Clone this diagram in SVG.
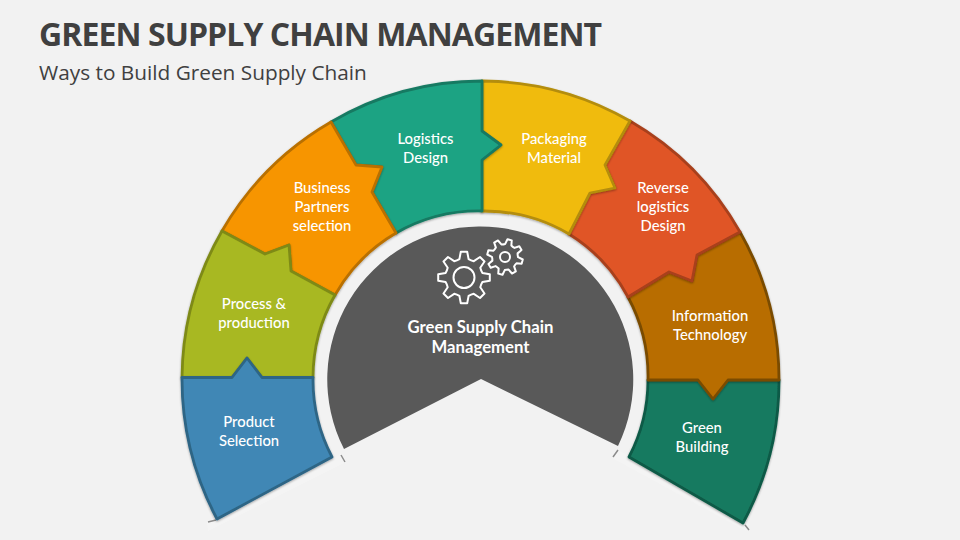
<svg xmlns="http://www.w3.org/2000/svg" xmlns:xlink="http://www.w3.org/1999/xlink" width="960" height="540" viewBox="0 0 960 540">
<style>
.bg{fill:#f2f2f2}
.title{font:bold 32px "Open Sans",sans-serif;fill:#404040;letter-spacing:-.92px}
.sub{font:20.8px "Open Sans",sans-serif;fill:#404040}
.lbl{font:500 14.8px Lato,"Liberation Sans",sans-serif;fill:#fff;text-anchor:middle}
.clbl{font:bold 16.700px Lato,"Liberation Sans",sans-serif;fill:#fff;text-anchor:middle}
.seg{stroke-width:2.800;stroke-linejoin:round;filter:url(#sh)}
.gear{fill:none;stroke:#fff;stroke-width:2;stroke-linejoin:round}
.strip{fill:#f4f4f4}
.tick{stroke:#8c8c8c;stroke-width:1.500;fill:none;filter:url(#bl)}
</style>
<defs>
<filter id="sh" x="-10%" y="-10%" width="120%" height="120%"><feDropShadow dx="0" dy="1" stdDeviation="1.200" flood-color="#000" flood-opacity=".35"/></filter>
<filter id="bl" x="-50%" y="-50%" width="200%" height="200%"><feGaussianBlur stdDeviation=".7"/></filter>
<path id="g" d="M-4.600 -18.400L-3.200 -25.800L3.200 -25.800L4.600 -18.400A19 19 0 0 0 9.800 -16.300L16 -20.500L20.500 -16L16.300 -9.800A19 19 0 0 0 18.400 -4.600L25.800 -3.200L25.800 3.200L18.400 4.600A19 19 0 0 0 16.300 9.800L20.500 16L16 20.500L9.800 16.300A19 19 0 0 0 4.600 18.400L3.200 25.800L-3.200 25.800L-4.600 18.400A19 19 0 0 0 -9.800 16.300L-16 20.500L-20.500 16L-16.300 9.800A19 19 0 0 0 -18.400 4.600L-25.800 3.200L-25.800 -3.200L-18.400 -4.600A19 19 0 0 0 -16.300 -9.800L-20.500 -16L-16 -20.500L-9.800 -16.300A19 19 0 0 0 -4.600 -18.400Z"/>
</defs>
<rect class="bg" width="960" height="540"/>
<text class="title" x="39" y="46">GREEN SUPPLY CHAIN MANAGEMENT</text>
<text class="sub" x="39" y="80">Ways to Build Green Supply Chain</text>
<g id="connectors"></g>
<polygon class="strip" points="341,454 346,462 208,531 207,522"/>
<polygon class="strip" points="618,450 612,458 746,531 750,524"/>
<path class="tick" d="M341 455L345 462M208 522L216 520M618 450L613 457M745 525L749 530"/>
<g id="green-building"><path class="seg" fill="#177a60" stroke="#0f5a46" d="M648 380L698 380L728 380L779 380A298.500 298.500 0 0 1 743 523L629 457A167 167 0 0 0 648 380Z"/><text class="lbl" x="702" y="433">Green</text><text class="lbl" x="702" y="452">Building</text></g>
<g id="information-technology"><path class="seg" fill="#b86d00" stroke="#7a4c00" d="M740 232A298.500 298.500 0 0 1 779 380L728 380L713 399L698 380L648 380A167 167 0 0 0 628 297L669 272L692 281L697 255Z"/><text class="lbl" x="710" y="321">Information</text><text class="lbl" x="710" y="340">Technology</text></g>
<g id="reverse-logistics"><path class="seg" fill="#e05526" stroke="#a8401c" d="M630 121A298.500 298.500 0 0 1 740 232L697 255L692 281L669 272L628 297A167 167 0 0 0 569 234L590 193L615 188L605 165Z"/><text class="lbl" x="663" y="193">Reverse</text><text class="lbl" x="663" y="212">logistics</text><text class="lbl" x="663" y="231">Design</text></g>
<g id="packaging-material"><path class="seg" fill="#f0bb0c" stroke="#b48d09" d="M482 81A298.500 298.500 0 0 1 630 121L605 165L615 188L590 193L569 234A167 167 0 0 0 482 211L482 160L501 145L482 131Z"/><text class="lbl" x="554" y="144">Packaging</text><text class="lbl" x="554" y="163">Material</text></g>
<g id="logistics-design"><path class="seg" fill="#1fa383" stroke="#177a62" d="M331 122A298.500 298.500 0 0 1 482 81L482 131L501 145L482 160L482 211A167 167 0 0 0 396 233L372 192L382 167L356 165Z"/><text class="lbl" x="425.500" y="144">Logistics</text><text class="lbl" x="425.500" y="163">Design</text></g>
<g id="business-partners"><path class="seg" fill="#f79500" stroke="#b97000" d="M222 231A298.500 298.500 0 0 1 331 122L356 165L382 167L372 192L396 233A167 167 0 0 0 335 295L291 271L289 245L265 254Z"/><text class="lbl" x="322" y="193">Business</text><text class="lbl" x="322" y="212">Partners</text><text class="lbl" x="322" y="231">selection</text></g>
<g id="process-production"><path class="seg" fill="#a8b820" stroke="#7e8a18" d="M182 377.500A298.500 298.500 0 0 1 222 231L265 254L289 245L291 271L335 295A167 167 0 0 0 313 377.500L262 377.500L247 358L232 377.500Z"/><text class="lbl" x="254" y="309">Process &amp;</text><text class="lbl" x="254" y="328">production</text></g>
<g id="product-selection"><path class="seg" fill="#3f87b5" stroke="#2d6585" d="M182 377.500L232 377.500L247 358L262 377.500L313 377.500A167 167 0 0 0 332 457L217 519A298.500 298.500 0 0 1 182 377.500Z"/><text class="lbl" x="249" y="427">Product</text><text class="lbl" x="249" y="446">Selection</text></g>
<g id="center"><path fill="#595959" d="M344 449A153 153 0 1 1 618 446L481 379Z"/>
<use xlink:href="#g" href="#g" class="gear" transform="translate(464 277.500)"/>
<circle class="gear" cx="464" cy="277.500" r="10.500"/>
<use xlink:href="#g" href="#g" class="gear" style="stroke-width:2.900" transform="translate(505 257) rotate(15) scale(.69)"/>
<circle class="gear" cx="505" cy="257" r="5"/>
<text class="clbl" x="480.500" y="333">Green Supply Chain</text><text class="clbl" x="480.500" y="353">Management</text></g>
</svg>
